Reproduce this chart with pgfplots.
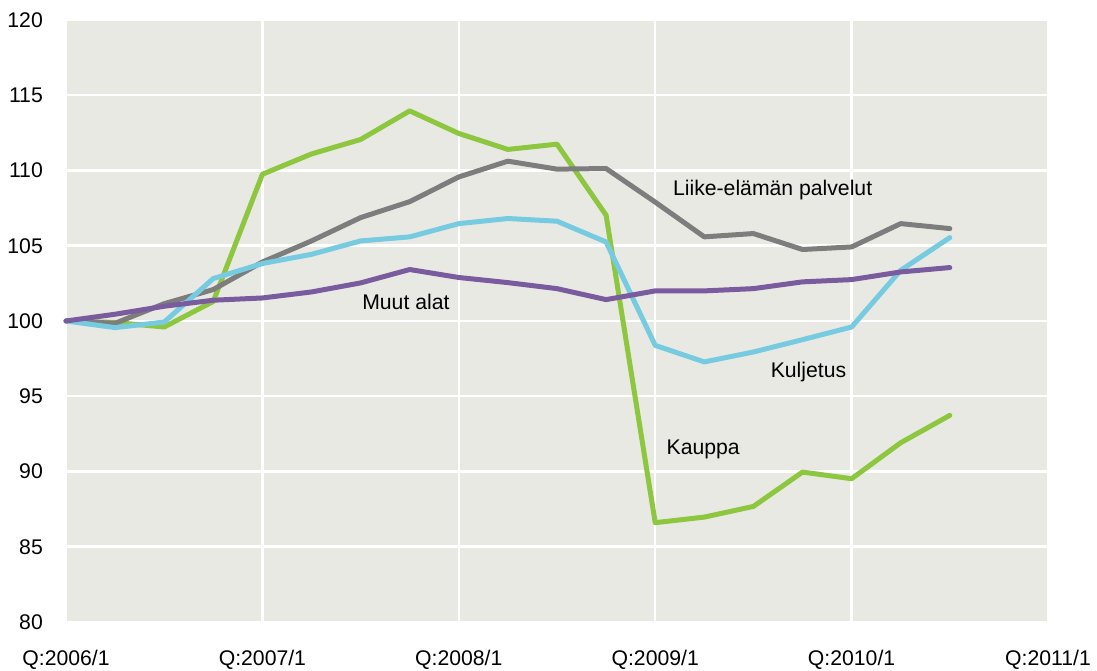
\documentclass[border=0pt]{standalone}
\usepackage{fontspec}
\setmainfont{Liberation Sans}
\usepackage{pgfplots}
\pgfplotsset{compat=1.18}
\definecolor{bgc}{RGB}{233,233,228}
\definecolor{cgreen}{RGB}{141,198,63}
\definecolor{cgray}{RGB}{125,125,125}
\definecolor{ccyan}{RGB}{118,203,224}
\definecolor{cpurple}{RGB}{122,92,158}
\newcommand{\ff}{\fontsize{21.2}{25}\selectfont}
\begin{document}
\begin{tikzpicture}
\path[use as bounding box] (-66pt,-49pt) rectangle (1031pt,622pt);
\begin{axis}[
  at={(0pt,0pt)}, anchor=south west,
  scale only axis, width=982pt, height=602pt,
  xmin=0, xmax=20, ymin=80, ymax=120,
  xtick={0,4,8,12,16,20},
  xticklabels={Q:2006/1,Q:2007/1,Q:2008/1,Q:2009/1,Q:2010/1,Q:2011/1},
  ytick={80,85,...,120},
  axis background/.style={fill=bgc},
  axis line style={draw=none},
  major tick length=0pt,
  grid=major,
  major grid style={white, line width=2.5pt},
  /pgf/number format/assume math mode=true,
  tick label style={font=\ff, text=black},
  yticklabel style={anchor=east, inner sep=0pt, xshift=-23pt},
  xticklabel style={anchor=north, inner sep=0pt, yshift=-28pt},
  every axis plot/.append style={line width=5pt, line join=round, line cap=round},
  clip=false,
]
% Kauppa
\addplot[cgreen] coordinates {
(0,100) (1,99.9) (2,99.6) (3,101.3) (4,109.75) (5,111.1) (6,112.06) (7,113.96)
(8,112.46) (9,111.4) (10,111.75) (11,107.03) (12,86.6) (13,86.97) (14,87.68)
(15,89.96) (16,89.52) (17,91.91) (18,93.73)};
% Liike-elaman palvelut
\addplot[cgray] coordinates {
(0,100) (1,99.85) (2,101.15) (3,102.09) (4,103.92) (5,105.32) (6,106.87) (7,107.93)
(8,109.57) (9,110.62) (10,110.09) (11,110.13) (12,107.9) (13,105.59) (14,105.81)
(15,104.75) (16,104.92) (17,106.47) (18,106.14)};
% Kuljetus
\addplot[ccyan] coordinates {
(0,100) (1,99.56) (2,99.93) (3,102.82) (4,103.82) (5,104.43) (6,105.32) (7,105.59)
(8,106.47) (9,106.81) (10,106.63) (11,105.25) (12,98.38) (13,97.28) (14,97.94)
(15,98.76) (16,99.6) (17,103.37) (18,105.54)};
% Muut alat
\addplot[cpurple] coordinates {
(0,100) (1,100.45) (2,100.98) (3,101.38) (4,101.53) (5,101.93) (6,102.53) (7,103.42)
(8,102.89) (9,102.55) (10,102.15) (11,101.42) (12,102.0) (13,102.0) (14,102.15)
(15,102.6) (16,102.75) (17,103.26) (18,103.55)};
\node[anchor=west, inner sep=0pt, font=\ff] at (axis cs:12.36,108.7) {Liike-elämän palvelut};
\node[anchor=west, inner sep=0pt, font=\ff] at (axis cs:14.35,96.61) {Kuljetus};
\node[anchor=west, inner sep=0pt, font=\ff] at (axis cs:12.23,91.47) {Kauppa};
\node[anchor=west, inner sep=0pt, font=\ff] at (axis cs:6.03,101.24) {Muut alat};
\end{axis}
\end{tikzpicture}
\end{document}
